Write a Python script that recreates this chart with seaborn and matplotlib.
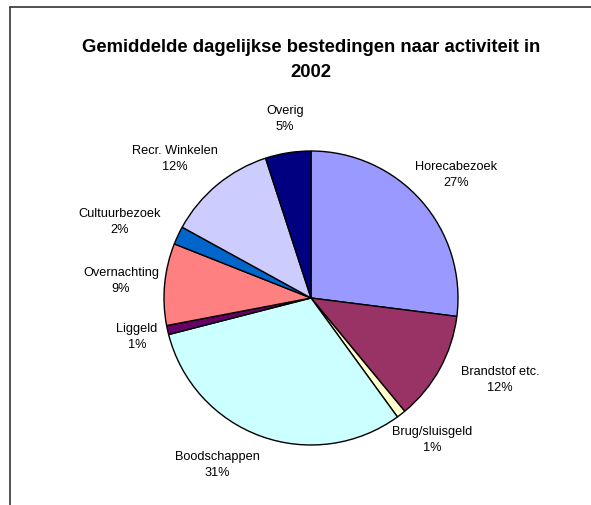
import numpy as np
import seaborn as sns
import matplotlib.pyplot as plt
from matplotlib.lines import Line2D

# data: share of average daily spending per activity (clockwise from 12 o'clock)
categories = ["Horecabezoek", "Brandstof etc.", "Brug/sluisgeld", "Boodschappen",
              "Liggeld", "Overnachting", "Cultuurbezoek", "Recr. Winkelen", "Overig"]
shares = [27, 12, 1, 31, 1, 9, 2, 12, 5]
colors = ["#9999FF", "#993366", "#FFFFCC", "#CCFFFF", "#660066",
          "#FF8080", "#0066CC", "#CCCCFF", "#000080"]

# label centres in pixels (Excel style placement)
label_px = [(456, 175), (500, 380), (432, 440), (217, 465), (137, 337),
            (121, 281), (120, 222), (175, 159), (285, 119)]

sns.set_style("white")
plt.rcParams['font.family'] = ['Liberation Sans', 'DejaVu Sans']
plt.rcParams['text.color'] = 'black'

W, H = 591, 506
cx, cy, r = 311, 299, 147

fig = plt.figure(figsize=(W / 100, H / 100), dpi=100)
ax = fig.add_axes([0, 0, 1, 1])

ax.pie(shares, colors=colors, startangle=90, counterclock=False,
       wedgeprops=dict(edgecolor="black", linewidth=1.0))

ax.set_xlim(-cx / r, (W - cx) / r)
ax.set_ylim(-(H - cy) / r, cy / r)
ax.set_aspect("equal")
ax.axis("off")

for name, val, (px, py) in zip(categories, shares, label_px):
    ax.text((px - cx) / r, (cy - py) / r, f"{name}\n{val}%", ha="center", va="center",
            fontsize=9.2, linespacing=1.55, color="black")

fig.text(311 / W, 1 - 60 / H, "Gemiddelde dagelijkse bestedingen naar activiteit in\n2002",
         ha="center", va="center", fontsize=13.3, fontweight="bold", linespacing=1.6,
         color="black")

# chart area frame (only left and top sides visible)
fig.add_artist(Line2D([10 / W, 10 / W], [0, 1 - 8 / H], transform=fig.transFigure,
                      color="#333333", linewidth=1.2))
fig.add_artist(Line2D([10 / W, 1], [1 - 8 / H, 1 - 8 / H], transform=fig.transFigure,
                      color="#333333", linewidth=1.2))

fig.savefig("out.png", dpi=100)
